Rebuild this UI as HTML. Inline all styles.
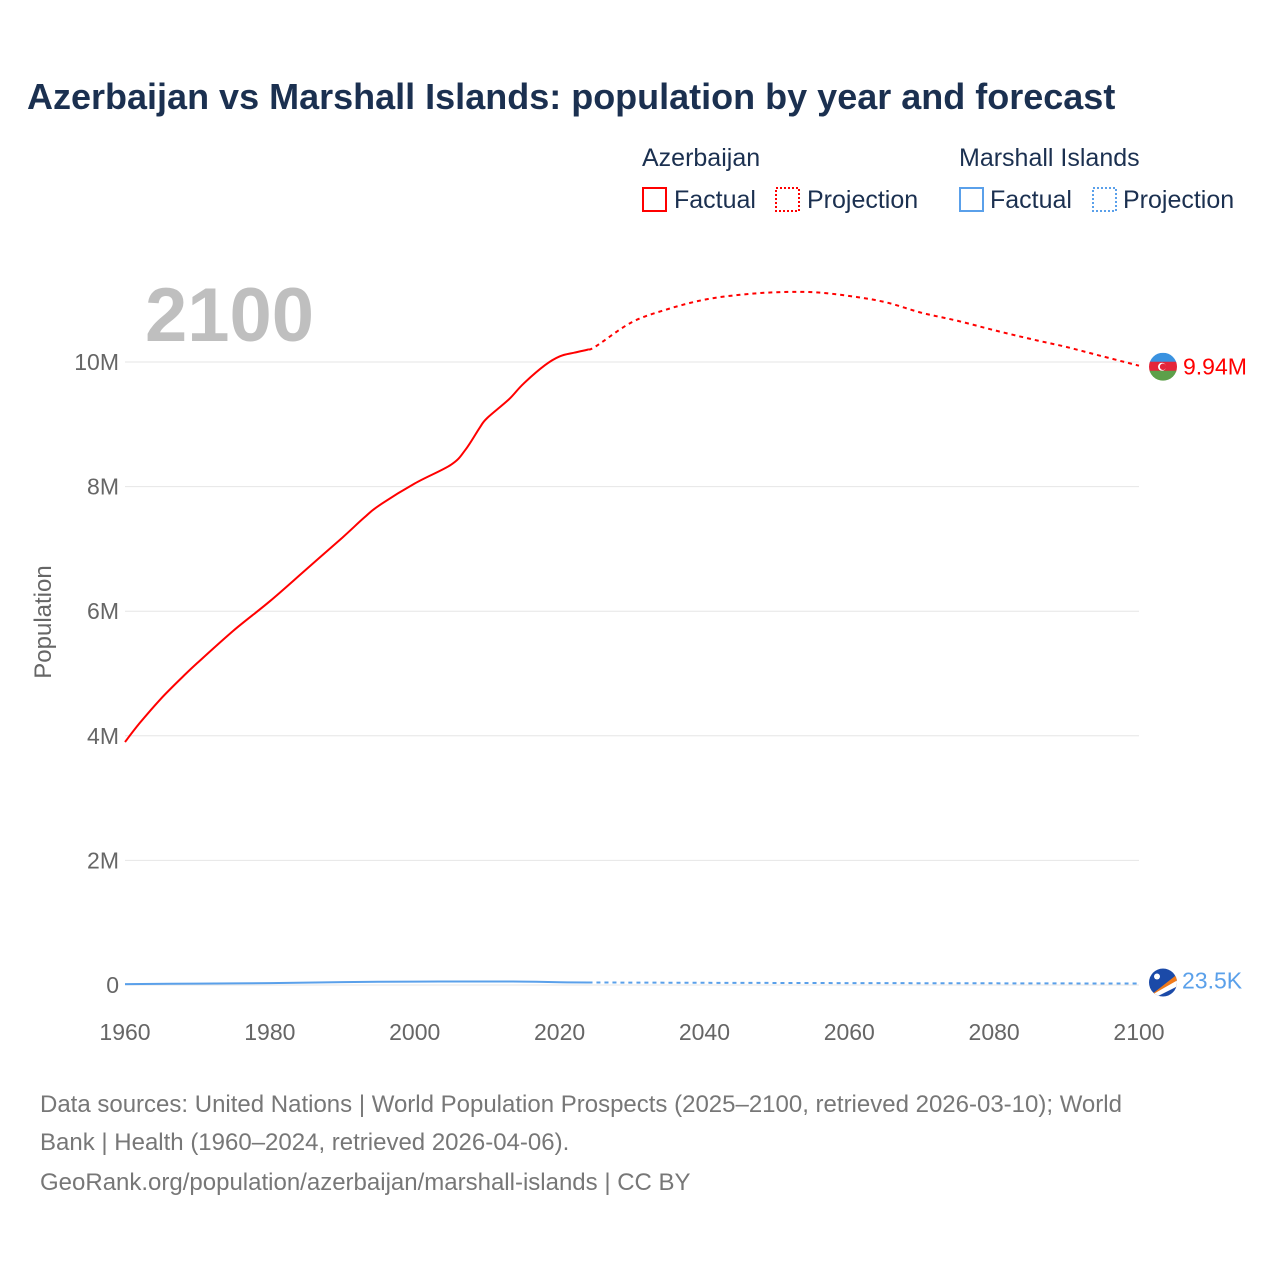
<!DOCTYPE html>
<html><head><meta charset="utf-8">
<style>
body{margin:0;background:#fff;font-family:"Liberation Sans",sans-serif;}
#wrap{position:relative;width:1280px;height:1280px;}
</style></head>
<body>
<div id="wrap">
<svg id="chart" width="1280" height="1280" style="position:absolute;left:0;top:0">
<text x="27" y="109" font-size="36" font-weight="bold" fill="#1b3050">Azerbaijan vs Marshall Islands: population by year and forecast</text>
<g font-size="25" fill="#1b3050">
<text x="642" y="166">Azerbaijan</text>
<rect x="643" y="188" width="23" height="23" fill="none" stroke="#ff0000" stroke-width="2"/>
<text x="674" y="208">Factual</text>
<rect x="776" y="188" width="23" height="23" fill="none" stroke="#ff0000" stroke-width="2" stroke-dasharray="2,2"/>
<text x="807" y="208">Projection</text>
<text x="959" y="166">Marshall Islands</text>
<rect x="960" y="188" width="23" height="23" fill="none" stroke="#5aa0ea" stroke-width="2"/>
<text x="990" y="208">Factual</text>
<rect x="1093" y="188" width="23" height="23" fill="none" stroke="#5aa0ea" stroke-width="2" stroke-dasharray="2,2"/>
<text x="1123" y="208">Projection</text>
</g>
<text x="145" y="341" font-size="76" font-weight="bold" fill="#bfbfbf">2100</text>
<g id="grid"></g>
<g id="series"></g>
<text transform="translate(51,622) rotate(-90)" text-anchor="middle" font-size="24" fill="#666">Population</text>
<g font-size="24" fill="#777">
<text x="40" y="1112">Data sources: United Nations | World Population Prospects (2025–2100, retrieved 2026-03-10); World</text>
<text x="40" y="1150">Bank | Health (1960–2024, retrieved 2026-04-06).</text>
<text x="40" y="1190">GeoRank.org/population/azerbaijan/marshall-islands | CC BY</text>
</g>
</svg>
</div>
<script>
const azFactYears=[1960,1962,1965,1968,1970,1975,1980,1985,1990,1993,1995,2000,2005,2007,2009,2010,2013,2015,2018,2020,2022,2024];
const azFactVals=[3.9,4.2,4.6,4.95,5.17,5.69,6.16,6.67,7.18,7.5,7.69,8.05,8.35,8.59,8.95,9.1,9.4,9.65,9.95,10.09,10.15,10.2];
const azProjYears=[2024,2025,2030,2035,2040,2045,2050,2055,2060,2065,2070,2075,2080,2085,2090,2095,2100];
const azProjVals=[10.2,10.25,10.64,10.85,11.0,11.08,11.12,11.12,11.06,10.96,10.79,10.66,10.51,10.37,10.24,10.09,9.94];
const mhFactYears=[1960,1970,1980,1990,2000,2010,2015,2020,2024];
const mhFactVals=[0.015,0.022,0.031,0.047,0.054,0.056,0.055,0.045,0.040];
const mhProjYears=[2024,2040,2060,2080,2100];
const mhProjVals=[0.040,0.036,0.031,0.027,0.0235];
const yTicks=[0,2,4,6,8,10];
const yTickLabels=["0","2M","4M","6M","8M","10M"];
const xTicks=[1960,1980,2000,2020,2040,2060,2080,2100];
const NS="http://www.w3.org/2000/svg";
const X=y=>125+(y-1960)*(1139-125)/140;
const Y=v=>985-v*62.3;
const grid=document.getElementById('grid'),series=document.getElementById('series');
function mk(tag,attrs,parent){const e=document.createElementNS(NS,tag);for(const k in attrs)e.setAttribute(k,attrs[k]);parent.appendChild(e);return e;}
yTicks.forEach((t,i)=>{
  const l=mk('line',{x1:125,x2:1139,y1:Y(t),y2:Y(t),stroke:'#e6e6e6','stroke-width':1},grid);
  
  
  const tx=mk('text',{x:119,y:Y(t)+8,'text-anchor':'end','font-size':23,fill:'#666'},grid);
  tx.textContent=yTickLabels[i];
  
  
});
xTicks.forEach(t=>{
  const tx=mk('text',{x:X(t),y:1040,'text-anchor':'middle','font-size':23,fill:'#666'},grid);
  tx.textContent=t;
  
  
});
function path(ys,vs){
  const p=ys.map((y,i)=>[X(y),Y(vs[i])]);
  let d='M'+p[0][0].toFixed(1)+','+p[0][1].toFixed(1);
  for(let i=0;i<p.length-1;i++){
    const p0=p[i-1]||p[i],p1=p[i],p2=p[i+1],p3=p[i+2]||p2;
    const c1=[p1[0]+(p2[0]-p0[0])/6,p1[1]+(p2[1]-p0[1])/6];
    const c2=[p2[0]-(p3[0]-p1[0])/6,p2[1]-(p3[1]-p1[1])/6];
    d+='C'+c1[0].toFixed(1)+','+c1[1].toFixed(1)+' '+c2[0].toFixed(1)+','+c2[1].toFixed(1)+' '+p2[0].toFixed(1)+','+p2[1].toFixed(1);
  }
  return d;
}
let p;
p=mk('path',{d:path(azFactYears,azFactVals),fill:'none',stroke:'#ff0000','stroke-width':2,'stroke-linejoin':'round'},series);


p=mk('path',{d:path(azProjYears,azProjVals),fill:'none',stroke:'#ff0000','stroke-width':2,'stroke-dasharray':'4,4'},series);


p=mk('path',{d:path(mhFactYears,mhFactVals),fill:'none',stroke:'#5aa0ea','stroke-width':2},series);


p=mk('path',{d:path(mhProjYears,mhProjVals),fill:'none',stroke:'#5aa0ea','stroke-width':2,'stroke-dasharray':'4,4'},series);


const azL=azProjVals[azProjVals.length-1], mhL=mhProjVals[mhProjVals.length-1];
const fx=1163, ay=Y(azL)+1, my=Y(mhL)-1;
const defs=mk('defs',{},series);
const cp=mk('clipPath',{id:'c1'},defs);mk('circle',{cx:fx,cy:ay,r:14},cp);
const cp2=mk('clipPath',{id:'c2'},defs);mk('circle',{cx:fx,cy:my,r:14},cp2);
const af=mk('g',{'clip-path':'url(#c1)'},series);


mk('rect',{x:fx-14,y:ay-14,width:28,height:10,fill:'#3a92e0'},af);
mk('rect',{x:fx-14,y:ay-5,width:28,height:10,fill:'#e4253a'},af);
mk('rect',{x:fx-14,y:ay+4,width:28,height:10,fill:'#5da04a'},af);
mk('circle',{cx:fx-1,cy:ay,r:4,fill:'#fff'},af);
mk('circle',{cx:fx,cy:ay,r:3.2,fill:'#e4253a'},af);
const mf=mk('g',{'clip-path':'url(#c2)'},series);


mk('rect',{x:fx-14,y:my-14,width:28,height:28,fill:'#1b4aa8'},mf);
mk('polygon',{points:`${fx-14},${my+14} ${fx+14},${my-8} ${fx+14},${my-2} ${fx-10},${my+14}`,fill:'#f07a1a'},mf);
mk('polygon',{points:`${fx-14},${my+14} ${fx+14},${my-2} ${fx+14},${my+4} ${fx-6},${my+14}`,fill:'#fff'},mf);
mk('circle',{cx:fx-6,cy:my-6,r:3,fill:'#fff'},mf);
let t=mk('text',{x:1183,y:Y(azL)+9,'font-size':23,fill:'#ff0000'},series);
t.textContent='9.94M';


t=mk('text',{x:1182,y:Y(mhL)+5,'font-size':23,fill:'#5aa0ea'},series);
t.textContent='23.5K';


</script>
</body></html>
